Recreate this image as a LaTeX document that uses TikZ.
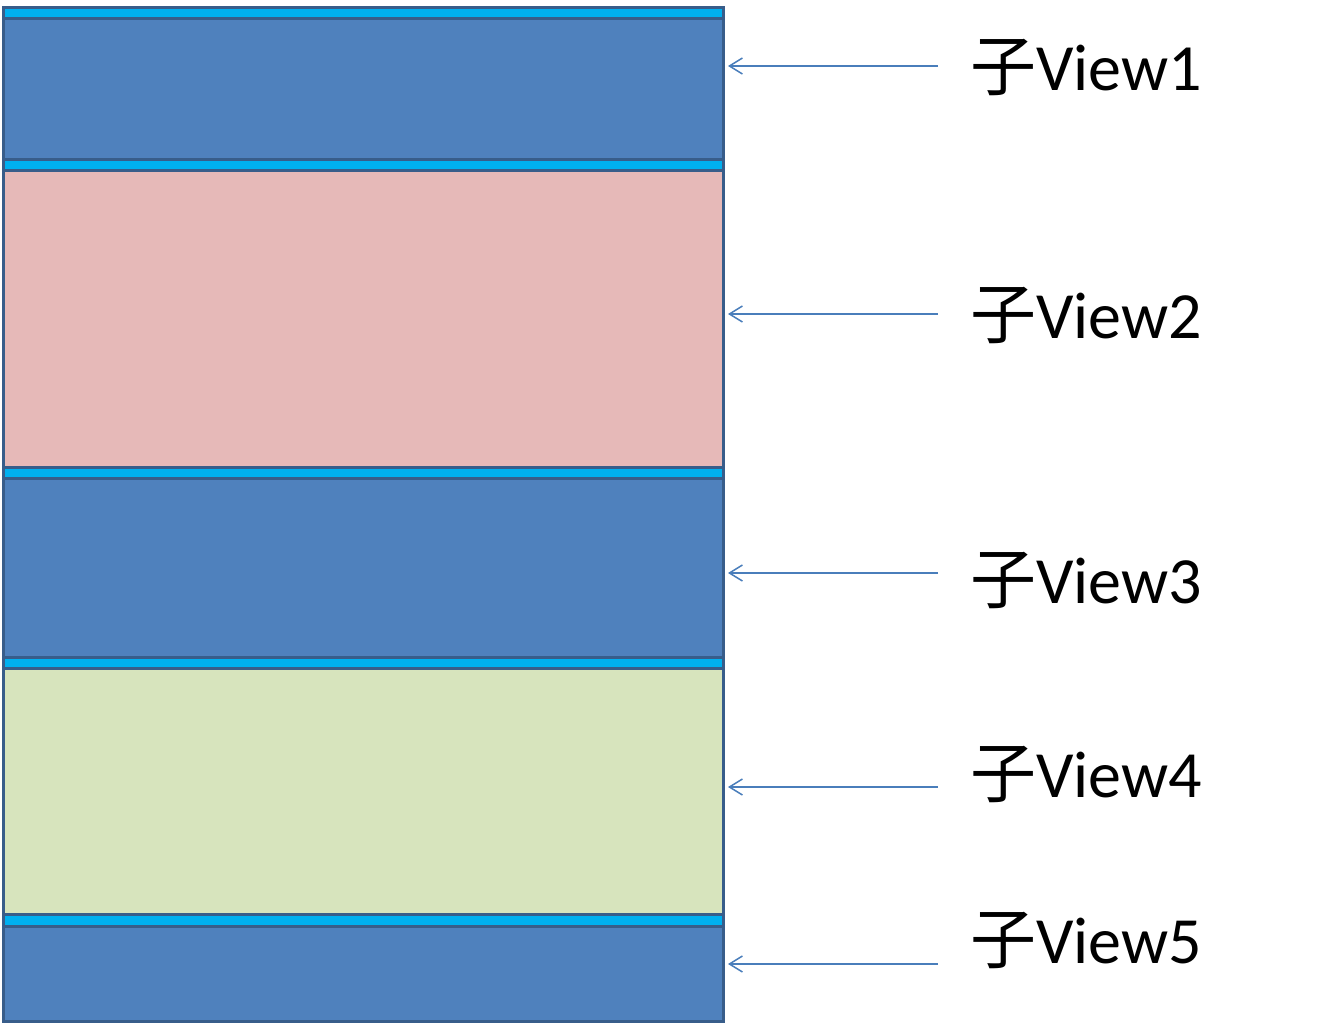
\documentclass[tikz,border=0pt]{standalone}
\usepackage{fontspec}
\setmainfont{Carlito}
\newfontfamily\cjk{Noto Sans CJK SC}
\usetikzlibrary{positioning, arrows.meta}

\definecolor{viewblue}{HTML}{4F81BD}
\definecolor{viewpink}{HTML}{E6B9B8}
\definecolor{viewgreen}{HTML}{D7E4BD}
\definecolor{barcyan}{HTML}{00B0F0}
\definecolor{edgeblue}{HTML}{385D8A}
\definecolor{arrowblue}{HTML}{4A7EBB}

\begin{document}
\begin{tikzpicture}[x=1pt, y=-1pt, node distance=0pt,
    block/.style={draw=edgeblue, line width=3pt, rectangle, inner sep=0pt, outer sep=0pt, minimum width=720pt},
    sepbar/.style={block, fill=barcyan, minimum height=11pt},
    tag/.style={inner sep=0pt, anchor=base west, font=\fontsize{66}{78}\selectfont},
    pointer/.style={draw=arrowblue, line width=1.5pt, -{Straight Barb[length=13pt, width=16pt]}, shorten >=4.5pt}]

    \useasboundingbox (0,0) rectangle (1331,1026);

    % Define the stacked child views (nodes)
    \node[sepbar, anchor=north west] (b1) at (3.5,7.5) {};
    \node[block, fill=viewblue, minimum height=141pt, below=of b1] (v1) {};
    \node[sepbar, below=of v1] (b2) {};
    \node[block, fill=viewpink, minimum height=297pt, below=of b2] (v2) {};
    \node[sepbar, below=of v2] (b3) {};
    \node[block, fill=viewblue, minimum height=179pt, below=of b3] (v3) {};
    \node[sepbar, below=of v3] (b4) {};
    \node[block, fill=viewgreen, minimum height=246pt, below=of b4] (v4) {};
    \node[sepbar, minimum height=12pt, below=of v4] (b5) {};
    \node[block, fill=viewblue, minimum height=95pt, below=of b5] (v5) {};

    % Define the labels
    \node[tag] (t1) at (970,90) {{\cjk 子}View1};
    \node[tag] (t2) at (970,338) {{\cjk 子}View2};
    \node[tag] (t3) at (970,603) {{\cjk 子}View3};
    \node[tag] (t4) at (970,797) {{\cjk 子}View4};
    \node[tag] (t5) at (970,963) {{\cjk 子}View5};

    % Define the arrows
    \coordinate (p1) at (938,66);
    \coordinate (p2) at (938,314);
    \coordinate (p3) at (938,573);
    \coordinate (p4) at (938,787);
    \coordinate (p5) at (938,964);
    \draw[pointer] (p1) -- (p1 -| v1.east);
    \draw[pointer] (p2) -- (p2 -| v2.east);
    \draw[pointer] (p3) -- (p3 -| v3.east);
    \draw[pointer] (p4) -- (p4 -| v4.east);
    \draw[pointer] (p5) -- (p5 -| v5.east);

\end{tikzpicture}
\end{document}
